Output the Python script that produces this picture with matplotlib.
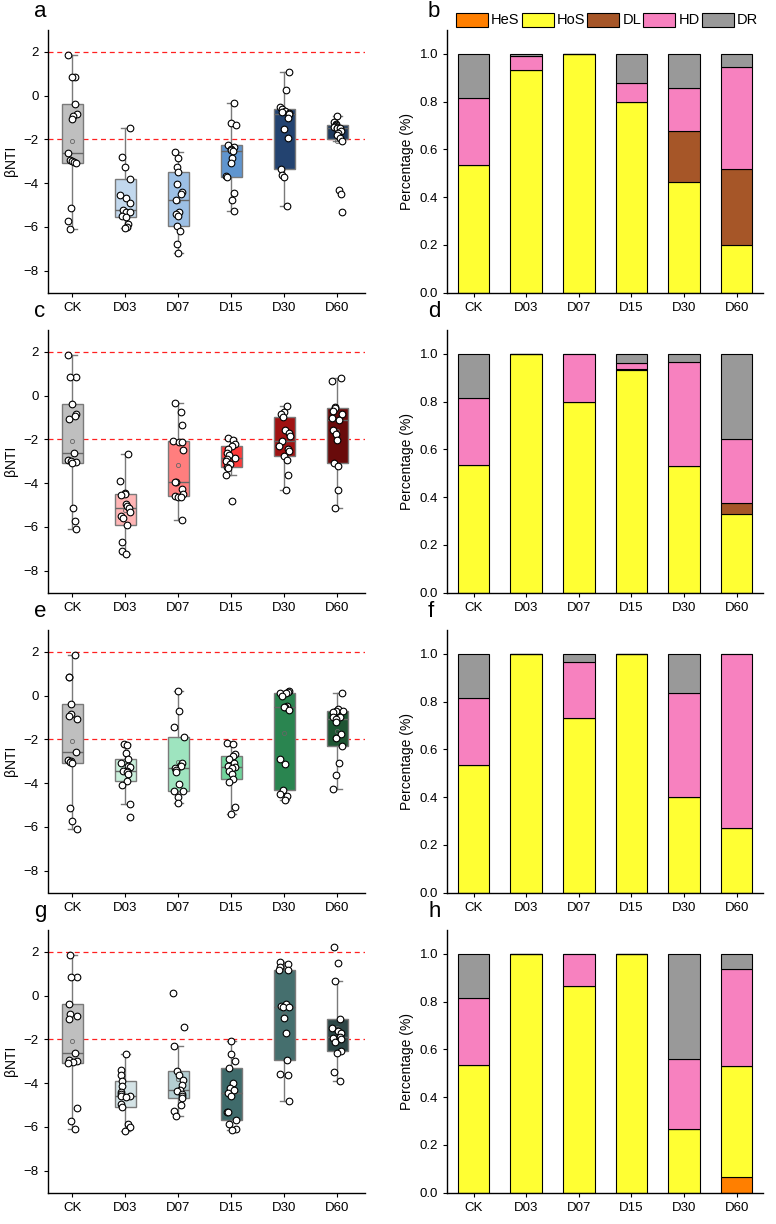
import numpy as np
import matplotlib
matplotlib.use('Agg')
import matplotlib.pyplot as plt
from matplotlib.patches import Patch

plt.rcParams['font.family'] = ['Liberation Sans', 'DejaVu Sans']

groups = ['CK', 'D03', 'D07', 'D15', 'D30', 'D60']

# βNTI values per sample (CK is shared by all four treatments)
ck_vals = [1.85, 0.85, 0.85, -0.4, -0.85, -0.95, -1.05, -2.6, -2.95, -3.0, -3.05, -3.1, -5.15, -5.75, -6.1]

a_d03 = [-1.5, -2.8, -3.25, -3.8, -4.55, -4.7, -4.9, -5.25, -5.3, -5.3, -5.5, -5.55, -5.85, -6.0, -6.05]
a_d07 = [-2.59, -2.84, -3.28, -3.5, -4.05, -4.4, -4.48, -4.75, -5.33, -5.42, -5.49, -5.98, -6.19, -6.77, -7.19]
a_d15 = [-0.35, -1.23, -1.34, -2.25, -2.33, -2.42, -2.5, -2.54, -2.87, -3.1, -3.68, -3.72, -4.45, -4.78, -5.27]
a_d30 = [1.07, 0.24, -0.5, -0.63, -0.7, -0.75, -0.8, -0.84, -1.03, -1.54, -1.95, -3.34, -3.63, -3.71, -5.06]
a_d60 = [-0.95, -1.2, -1.3, -1.35, -1.38, -1.42, -1.46, -1.48, -1.5, -1.6, -1.7, -1.8, -1.92, -2.07, -4.3, -4.48, -5.33]

c_d03 = [-2.69, -3.89, -4.45, -4.51, -4.54, -4.97, -5.03, -5.15, -5.3, -5.49, -5.58, -5.92, -6.69, -7.08, -7.25]
c_d07 = [-0.34, -0.77, -1.35, -2.08, -2.12, -2.14, -2.48, -3.94, -3.95, -4.29, -4.5, -4.6, -4.62, -4.65, -5.68]
c_d15 = [-1.92, -2.05, -2.2, -2.32, -2.46, -2.6, -2.72, -2.85, -2.89, -3.0, -3.12, -3.28, -3.31, -3.62, -4.8]
c_d30 = [-0.49, -0.74, -0.85, -0.97, -1.58, -1.69, -1.85, -2.08, -2.31, -2.46, -2.54, -2.74, -2.92, -3.62, -4.31]
c_d60 = [0.82, 0.69, -0.51, -0.57, -0.69, -0.85, -1.0, -1.12, -1.58, -1.77, -2.03, -3.09, -3.23, -4.31, -5.12]

e_d03 = [-2.23, -2.26, -2.62, -2.88, -3.08, -3.2, -3.28, -3.43, -3.45, -3.51, -3.6, -3.91, -4.08, -4.95, -5.54]
e_d07 = [0.2, -0.71, -1.42, -1.89, -3.08, -3.2, -3.23, -3.31, -3.4, -3.49, -4.03, -4.35, -4.38, -4.62, -4.89]
e_d15 = [-2.18, -2.23, -2.66, -2.74, -2.89, -3.1, -3.2, -3.28, -3.31, -3.45, -3.58, -3.82, -3.95, -5.11, -5.42]
e_d30 = [0.23, 0.15, 0.12, 0.11, 0.0, -0.46, -0.5, -0.54, -0.66, -2.92, -3.11, -4.32, -4.51, -4.57, -4.77]
e_d60 = [0.12, -0.62, -0.69, -0.72, -0.77, -0.97, -1.0, -1.08, -1.2, -1.77, -1.92, -2.32, -3.08, -3.62, -4.28]

g_d03 = [-2.65, -3.42, -3.65, -3.91, -4.11, -4.4, -4.51, -4.57, -4.6, -4.65, -4.97, -5.11, -5.89, -6.0, -6.18]
g_d07 = [0.11, -1.45, -2.29, -3.43, -3.65, -3.85, -4.1, -4.31, -4.38, -4.5, -4.6, -4.69, -5.0, -5.26, -5.49]
g_d15 = [-2.08, -2.66, -2.97, -3.31, -4.0, -4.2, -4.31, -4.46, -4.6, -5.31, -5.34, -5.69, -5.85, -6.1, -6.15]
g_d30 = [1.54, 1.46, 1.31, 1.18, 1.15, -0.4, -0.46, -0.52, -0.54, -1.0, -1.69, -2.92, -3.58, -3.62, -4.82]
g_d60 = [2.23, 1.51, 0.69, -1.06, -1.5, -1.62, -1.69, -1.89, -1.92, -2.0, -2.12, -2.54, -2.62, -3.49, -3.92]

# box fill colours
a_colors = ['#bfbfbf', '#c2d8ed', '#9dc0e5', '#5f95cf', '#234370', '#1f3a5d']
c_colors = ['#bfbfbf', '#ffb5b5', '#ff7e7e', '#ff3a3a', '#a01212', '#690b0b']
e_colors = ['#bfbfbf', '#c9efdb', '#9ee4bf', '#70d49b', '#2a8550', '#1e5533']
g_colors = ['#bfbfbf', '#d4e3e6', '#b4ced2', '#3f6b6b', '#456f6e', '#2d4747']

# assembly process fractions
proc_names = ['HeS', 'HoS', 'DL', 'HD', 'DR']
proc_colors = ['#ff7f00', '#ffff33', '#a65628', '#f781bf', '#999999']

b_hes = [0, 0, 0, 0, 0, 0]
b_hos = [0.533, 0.933, 1.0, 0.8, 0.464, 0.2]
b_dl = [0, 0, 0, 0, 0.214, 0.316]
b_hd = [0.28, 0.056, 0, 0.078, 0.178, 0.429]
b_dr = [0.187, 0.011, 0, 0.122, 0.144, 0.055]

d_hes = [0, 0, 0, 0, 0, 0]
d_hos = [0.533, 1.0, 0.8, 0.933, 0.531, 0.331]
d_dl = [0, 0, 0, 0.004, 0, 0.044]
d_hd = [0.28, 0, 0.2, 0.025, 0.437, 0.268]
d_dr = [0.187, 0, 0, 0.038, 0.032, 0.357]

f_hes = [0, 0, 0, 0, 0, 0]
f_hos = [0.533, 1.0, 0.731, 1.0, 0.4, 0.269]
f_dl = [0, 0, 0, 0, 0, 0]
f_hd = [0.28, 0, 0.235, 0, 0.436, 0.731]
f_dr = [0.187, 0, 0.034, 0, 0.164, 0]

h_hes = [0, 0, 0, 0, 0, 0.066]
h_hos = [0.533, 1.0, 0.867, 1.0, 0.266, 0.465]
h_dl = [0, 0, 0, 0, 0, 0]
h_hd = [0.28, 0, 0.133, 0, 0.293, 0.406]
h_dr = [0.187, 0, 0, 0, 0.441, 0.063]

left_panels = [
    ('a', [ck_vals, a_d03, a_d07, a_d15, a_d30, a_d60], a_colors),
    ('c', [ck_vals, c_d03, c_d07, c_d15, c_d30, c_d60], c_colors),
    ('e', [ck_vals, e_d03, e_d07, e_d15, e_d30, e_d60], e_colors),
    ('g', [ck_vals, g_d03, g_d07, g_d15, g_d30, g_d60], g_colors),
]
right_panels = [
    ('b', [b_hes, b_hos, b_dl, b_hd, b_dr]),
    ('d', [d_hes, d_hos, d_dl, d_hd, d_dr]),
    ('f', [f_hes, f_hos, f_dl, f_hd, f_dr]),
    ('h', [h_hes, h_hos, h_dl, h_hd, h_dr]),
]


def box_stats(vals):
    # quartiles the Origin way (p*(n+1)), whiskers 1.5 IQR
    v = np.asarray(vals, dtype=float)
    q1, med, q3 = np.percentile(v, [25, 50, 75], method='weibull')
    iqr = q3 - q1
    lo = v[v >= q1 - 1.5 * iqr].min()
    hi = v[v <= q3 + 1.5 * iqr].max()
    return dict(med=med, q1=q1, q3=q3, whislo=lo, whishi=hi,
                mean=v.mean(), fliers=[])


def style_axes(ax):
    for s in ['top', 'right']:
        ax.spines[s].set_visible(False)
    for s in ['left', 'bottom']:
        ax.spines[s].set_linewidth(1.0)
    ax.tick_params(axis='both', labelsize=9.5, length=3, width=0.8)


W, H = 776, 1224
fig = plt.figure(figsize=(W / 100, H / 100), dpi=100)
rng = np.random.RandomState(7)

for i, (lab, data, cols) in enumerate(left_panels):
    top = 30 + 300 * i
    bot = 292.5 + 300 * i
    ax = fig.add_axes([47.5 / W, 1 - bot / H, (365 - 47.5) / W, (bot - top) / H])
    stats = [box_stats(d) for d in data]
    pos = np.arange(len(groups))
    bp = ax.bxp(stats, positions=pos, widths=0.4, patch_artist=True,
                showmeans=True, showfliers=False, capwidths=0.16,
                boxprops=dict(edgecolor='#7a7a7a', linewidth=1.0),
                whiskerprops=dict(color='#7a7a7a', linewidth=1.0),
                capprops=dict(color='#7a7a7a', linewidth=1.0),
                medianprops=dict(color='#666666', linewidth=1.0),
                meanprops=dict(marker='o', markersize=3, markerfacecolor='none',
                               markeredgecolor='#666666', markeredgewidth=0.6))
    for patch, c in zip(bp['boxes'], cols):
        patch.set_facecolor(c)
    for k, d in enumerate(data):
        jit = rng.uniform(-0.1, 0.1, len(d))
        ax.plot(pos[k] + jit, d, 'o', ms=4.8, mfc='white', mec='black',
                mew=0.8, zorder=5, clip_on=False)
    for yv in [2, -2]:
        ax.axhline(yv, color='#ff2020', lw=0.9, ls=(0, (4, 3)), zorder=1)
    ax.set_xlim(-0.47, 5.52)
    ax.set_ylim(-9, 3)
    ax.set_yticks([-8, -6, -4, -2, 0, 2])
    ax.set_xticks(pos)
    ax.set_xticklabels(groups)
    ax.set_ylabel('βNTI', fontsize=10, labelpad=4)
    style_axes(ax)
    fig.text(34 / W, 1 - (top - 8) / H, lab, fontsize=16, va='bottom', ha='left')

for i, (lab, fracs) in enumerate(right_panels):
    top = 30 + 300 * i
    bot = 292.5 + 300 * i
    ax = fig.add_axes([447.3 / W, 1 - bot / H, (763 - 447.3) / W, (bot - top) / H])
    pos = np.arange(len(groups))
    bottom = np.zeros(len(groups))
    for name, col, vals in zip(proc_names, proc_colors, fracs):
        vals = np.asarray(vals, dtype=float)
        ax.bar(pos, vals, width=0.6, bottom=bottom, color=col,
               edgecolor='black', linewidth=0.8, label=name)
        bottom += vals
    ax.set_xlim(-0.5, 5.5)
    ax.set_ylim(0, 1.1)
    ax.set_yticks([0.0, 0.2, 0.4, 0.6, 0.8, 1.0])
    ax.set_yticklabels(['0.0', '0.2', '0.4', '0.6', '0.8', '1.0'])
    ax.set_xticks(pos)
    ax.set_xticklabels(groups)
    ax.set_ylabel('Percentage (%)', fontsize=10, labelpad=4)
    style_axes(ax)
    fig.text(428 / W, 1 - (top - 8) / H, lab, fontsize=16, va='bottom', ha='left')
    if i == 0:
        handles = [Patch(facecolor=c, edgecolor='black', linewidth=0.8, label=n)
                   for n, c in zip(proc_names, proc_colors)]
        fig.legend(handles=handles, loc='center left', ncol=5,
                   bbox_to_anchor=(456 / W, 1 - 20 / H), frameon=False,
                   fontsize=10.5, handlelength=2.2, handleheight=1.1,
                   handletextpad=0.2, columnspacing=0.15, borderpad=0,
                   borderaxespad=0)

fig.savefig('out.png', dpi=100)
